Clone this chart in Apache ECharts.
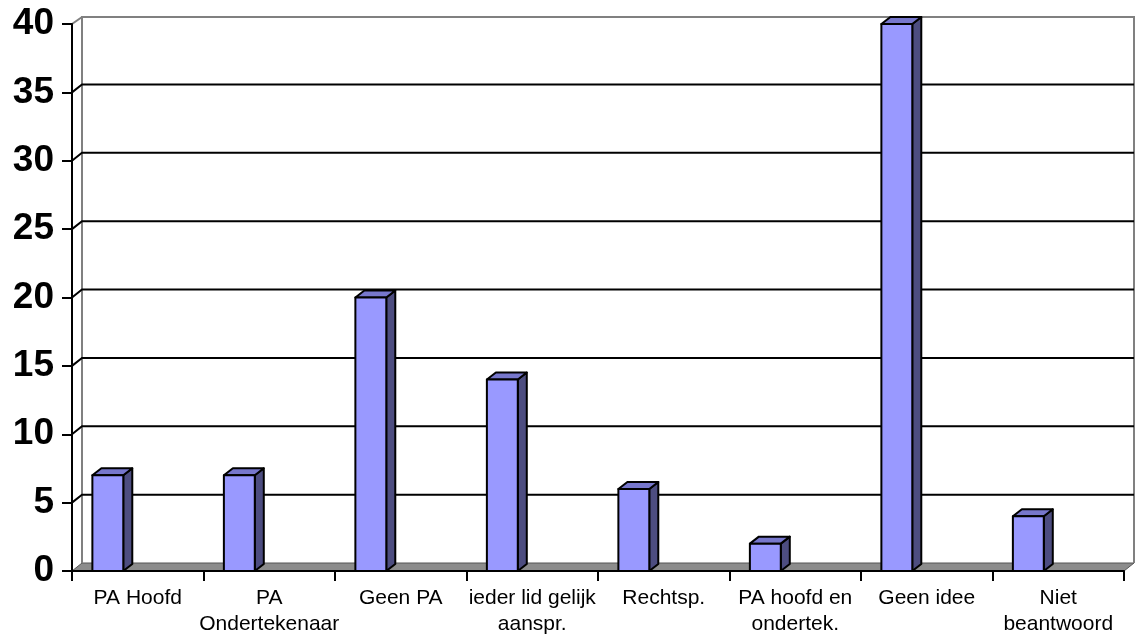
<!DOCTYPE html>
<html>
<head>
<meta charset="utf-8">
<script src="https://cdn.jsdelivr.net/npm/echarts@6/dist/echarts.min.js"></script>
<style>
  html, body { margin: 0; padding: 0; background: #fff; }
  #chart { width: 1137px; height: 637px; }
</style>
</head>
<body>
<div id="chart"></div>
<script>
var categories = ['PA Hoofd', 'PA\nOndertekenaar', 'Geen PA', 'ieder lid gelijk\naanspr.', 'Rechtsp.', 'PA hoofd en\nondertek.', 'Geen idee', 'Niet\nbeantwoord'];
var values = [7, 7, 20, 14, 6, 2, 40, 4];
var yTicks = [0, 5, 10, 15, 20, 25, 30, 35, 40];

var chartDom = document.getElementById('chart');
var myChart = echarts.init(chartDom);
var option;

// depth of the 3D look (wall and bars)
var WDX = 10, WDY = -8;
var BDX = 9, BDY = -7;

function renderWall(params, api) {
    var cs = params.coordSys;
    var v = api.value(0);
    var y = api.coord([0, v])[1];
    var x0 = cs.x, x1 = cs.x + cs.width;
    var children = [];
    if (v === 0) {
        // floor
        children.push({
            type: 'polygon',
            shape: { points: [[x0, y], [x1, y], [x1 + WDX, y + WDY], [x0 + WDX, y + WDY]] },
            style: { fill: '#8c8c8c', stroke: '#555', lineWidth: 1 }
        });
        // wall border
        var top = cs.y - 7;
        children.push({
            type: 'polyline',
            shape: { points: [[x0 + WDX, y + WDY], [x0 + WDX, top], [x1 + WDX, top], [x1 + WDX, y + WDY]] },
            style: { fill: null, stroke: '#808080', lineWidth: 2 }
        });
        children.push({
            type: 'line',
            shape: { x1: x0, y1: cs.y, x2: x0 + WDX, y2: top },
            style: { stroke: '#808080', lineWidth: 2 }
        });
    } else if (v < 40) {
        children.push({
            type: 'polyline',
            shape: { points: [[x0, y], [x0 + WDX, y + WDY], [x1 + WDX, y + WDY]] },
            style: { fill: null, stroke: '#000', lineWidth: 2 }
        });
    }
    return { type: 'group', children: children };
}

function renderBar(params, api) {
    var i = api.value(0);
    var p0 = api.coord([i, 0]);
    var p1 = api.coord([i, api.value(1)]);
    var bw = api.size([1, 0])[0];
    var left = p0[0] - bw / 2 + 0.155 * bw;
    var w = 0.235 * bw;
    var right = left + w;
    var yb = p0[1], yt = p1[1];
    var line = { stroke: '#000', lineWidth: 2, lineJoin: 'round' };
    return {
        type: 'group',
        children: [
            {
                type: 'polygon',
                shape: { points: [[right, yt], [right + BDX, yt + BDY], [right + BDX, yb + BDY], [right, yb]] },
                style: Object.assign({ fill: '#4D4D80' }, line)
            },
            {
                type: 'polygon',
                shape: { points: [[left, yt], [left + BDX, yt + BDY], [right + BDX, yt + BDY], [right, yt]] },
                style: Object.assign({ fill: '#7777CC' }, line)
            },
            {
                type: 'rect',
                shape: { x: left, y: yt, width: w, height: yb - yt },
                style: Object.assign({ fill: '#9999FF' }, line)
            }
        ]
    };
}

option = {
    animation: false,
    grid: { left: 72, right: 13, top: 24, bottom: 65 },
    xAxis: {
        type: 'category',
        data: categories,
        z: 10,
        axisLine: { lineStyle: { color: '#000', width: 2 } },
        axisTick: { show: true, alignWithLabel: false, length: 10, lineStyle: { color: '#000', width: 2 } },
        axisLabel: {
            interval: 0,
            margin: 14,
            color: '#000',
            fontSize: 21,
            lineHeight: 26,
            fontFamily: 'Arial, "Liberation Sans", sans-serif'
        },
        splitLine: { show: false }
    },
    yAxis: {
        type: 'value',
        min: 0,
        max: 40,
        interval: 5,
        z: 10,
        axisLine: { show: true, lineStyle: { color: '#000', width: 2 } },
        axisTick: { show: true, length: 10, lineStyle: { color: '#000', width: 2 } },
        axisLabel: {
            margin: 18,
            color: '#000',
            fontSize: 37,
            fontWeight: 'bold',
            fontFamily: 'Arial, "Liberation Sans", sans-serif'
        },
        splitLine: { show: false }
    },
    series: [
        {
            type: 'custom',
            name: 'wall',
            z: 1,
            silent: true,
            renderItem: renderWall,
            data: yTicks.map(function (v) { return [v]; })
        },
        {
            type: 'custom',
            name: 'bars',
            z: 5,
            renderItem: renderBar,
            data: values.map(function (v, i) { return [i, v]; })
        }
    ]
};

option && myChart.setOption(option);
</script>
</body>
</html>
